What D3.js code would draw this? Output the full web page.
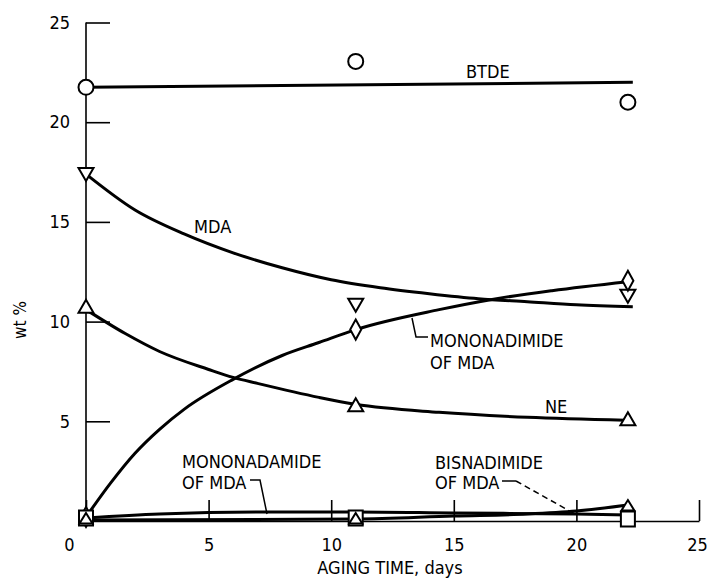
<!DOCTYPE html>
<html><head><meta charset="utf-8">
<script src="https://cdn.jsdelivr.net/npm/d3@7"></script>
<style>
body{margin:0;background:#fff}
svg text{font-family:"Liberation Sans Narrow","DejaVu Sans Condensed","Arial Narrow",sans-serif;fill:#000}
</style></head>
<body><svg width="707" height="579"></svg>
<script>
// measured points: aging days and wt % per component
const days = [0, 11, 22.1];
const btde = [21.75, 23.05, 21.0];
const mda = [17.4, 10.85, 11.3];
const ne = [10.75, 5.8, 5.1];
const mononadimide = [0.2, 9.6, 12.05];
const mononadamide = [0.15, 0.15, 0.1];
const bisnadimide = [0.1, 0.1, 0.75];

// hand drawn fit curves
const btdeFitDays = [0, 22.3];
const btdeFit = [21.75, 22.0];
const mdaFitDays = [0, 2, 4, 6, 8, 10, 12, 14, 16, 18, 20, 22.3];
const mdaFit = [17.4, 15.6, 14.4, 13.45, 12.7, 12.1, 11.7, 11.4, 11.15, 11.0, 10.85, 10.75];
const neFitDays = [0, 1.6, 3, 5, 6, 7, 9.5, 11, 14.4, 18, 22];
const neFit = [10.6, 9.4, 8.5, 7.6, 7.2, 6.9, 6.2, 5.85, 5.45, 5.2, 5.05];
const monoimFitDays = [0, 1, 2, 3, 4, 6, 8, 9.5, 11, 14.4, 16.5, 19, 22.1];
const monoimFit = [0.2, 1.9, 3.4, 4.6, 5.6, 7.1, 8.3, 8.95, 9.6, 10.6, 11.1, 11.55, 12.0];
const monoamFitDays = [0, 3, 7, 11, 15, 20, 22.1];
const monoamFit = [0.15, 0.35, 0.45, 0.45, 0.4, 0.35, 0.3];
const bisFitDays = [0, 11, 15, 18, 20, 22.1];
const bisFit = [0.05, 0.1, 0.25, 0.35, 0.5, 0.8];

const xTicks = [0, 5, 10, 15, 20, 25];
const yTicks = [5, 10, 15, 20, 25];

const x = d3.scaleLinear().domain([0, 25]).range([86, 699]);
const y = d3.scaleLinear().domain([0, 25]).range([521, 22.5]);

const svg = d3.select('svg');

// axes
const xAxis = svg.append('g')
  .attr('transform', 'translate(0,' + y(0) + ')')
  .call(d3.axisBottom(x).tickValues(xTicks).tickSizeInner(-21).tickSizeOuter(0).tickPadding(17));
xAxis.selectAll('text').style('font-size', '18px');
xAxis.selectAll('.tick').filter(d => d === 0).select('text').attr('dx', -17);
xAxis.selectAll('.tick').filter(d => d === 25).select('text').attr('dx', -2);

const yAxis = svg.append('g')
  .attr('transform', 'translate(' + x(0) + ',0)')
  .call(d3.axisLeft(y).tickValues(yTicks).tickSizeInner(-24).tickSizeOuter(0).tickPadding(16));
yAxis.selectAll('text').style('font-size', '18px');
yAxis.select('.domain').attr('d', 'M0,' + y(25) + 'V' + y(0));
svg.selectAll('.domain, .tick line').attr('stroke', '#000').attr('stroke-width', 1.6);

svg.append('text').attr('x', 390).attr('y', 574).attr('text-anchor', 'middle')
  .style('font-size', '18px').text('AGING TIME, days');
svg.append('text').attr('transform', 'translate(26,320) rotate(-90)').attr('text-anchor', 'middle')
  .style('font-size', '17px').text('wt %');

// fitted curves
const line = d3.line().x(d => x(d[0])).y(d => y(d[1])).curve(d3.curveMonotoneX);
const fits = [
  [btdeFitDays, btdeFit], [mdaFitDays, mdaFit], [neFitDays, neFit],
  [monoimFitDays, monoimFit], [monoamFitDays, monoamFit], [bisFitDays, bisFit]
];
svg.append('g').selectAll('path')
  .data(fits)
  .enter()
  .append('path')
  .attr('d', f => line(f[0].map((d, i) => [d, f[1][i]])))
  .attr('fill', 'none')
  .attr('stroke', '#000')
  .attr('stroke-width', 3);

// markers
const shapes = {
  circle: 'M7.5,0A7.5,7.5 0 1,1 -7.5,0A7.5,7.5 0 1,1 7.5,0Z',
  down: 'M-7.5,-6L7.5,-6L0,7Z',
  up: 'M0,-7L7.5,6L-7.5,6Z',
  diamond: 'M0,-10L5.5,0L0,10L-5.5,0Z',
  square: 'M-7,-7.5H7V7.5H-7Z',
  smallUp: 'M0,-6L6.5,4.5L-6.5,4.5Z'
};
const marks = [
  [btde, 'circle'], [mda, 'down'], [ne, 'up'],
  [mononadimide, 'diamond'], [mononadamide, 'square'], [bisnadimide, 'smallUp']
];
marks.forEach(m => {
  svg.append('g').selectAll('path')
    .data(m[0])
    .enter()
    .append('path')
    .attr('transform', (d, i) => 'translate(' + x(days[i]) + ',' + y(d) + ')')
    .attr('d', shapes[m[1]])
    .attr('fill', '#fff')
    .attr('stroke', '#000')
    .attr('stroke-width', 2);
});

// labels
const lab = (t, px, py) => svg.append('text').attr('x', px).attr('y', py).style('font-size', '18px').text(t);
lab('BTDE', 466, 78);
lab('MDA', 194, 233);
lab('NE', 545, 413);
lab('MONONADIMIDE', 430, 347);
lab('OF MDA', 430, 369);
lab('MONONADAMIDE', 182, 468);
lab('OF MDA', 182, 489);
lab('BISNADIMIDE', 435, 469);
lab('OF MDA', 435, 489);

// leader lines
const lead = (d, dash) => svg.append('path').attr('d', d).attr('fill', 'none')
  .attr('stroke', '#000').attr('stroke-width', 1.5).attr('stroke-dasharray', dash || null);
lead('M412,318L416,337H428');
lead('M250,480H260L267,514');
lead('M502,481H516');
lead('M516,481L575,514', '6,4');
</script>
</body></html>
